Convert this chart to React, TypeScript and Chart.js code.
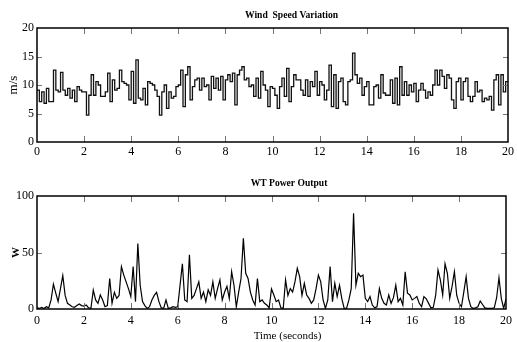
import React, { useEffect, useRef } from "react";
import { Chart, registerables } from "chart.js";

Chart.register(...registerables);

// ---------- data ----------
const timeStep = 0.1; // seconds between samples
const timeRange = [0, 20];
const xTicks = [0, 2, 4, 6, 8, 10, 12, 14, 16, 18, 20];
const windTicks = [0, 5, 10, 15, 20];
const powerTicks = [0, 50, 100];

const windTitle = "Wind  Speed Variation";
const powerTitle = "WT Power Output";
const windUnit = "m/s";
const powerUnit = "W";
const timeLabel = "Time (seconds)";

// wind speed (m/s), one value per 0.1 s step
const windSpeed = [
  9.1, 7.1, 8.8, 6.8, 9.4, 7.1, 7.1, 12.6, 9.1, 8.8,
  12.2, 9.1, 8.2, 9.4, 7.7, 9.1, 7.1, 9.7, 9.1, 8.8,
  8.8, 4.7, 8.2, 11.8, 8.2, 10.6, 10.0, 8.0, 8.0, 8.8,
  12.1, 7.1, 10.9, 9.1, 9.4, 12.6, 10.6, 10.3, 10.0, 7.4,
  12.4, 6.8, 14.4, 7.7, 7.4, 9.4, 6.5, 10.6, 10.3, 10.0,
  9.1, 8.0, 4.7, 8.8, 10.0, 5.9, 8.8, 7.7, 8.0, 9.7,
  10.0, 12.6, 6.2, 11.8, 13.2, 7.4, 9.7, 10.9, 11.2,
  9.1, 11.2, 9.7, 10.0, 7.4, 11.5, 9.4, 11.2, 9.1, 11.5,
  7.4, 10.9, 11.8, 10.6, 12.1, 6.5, 11.8, 12.6, 13.2, 10.9,
  11.2, 9.7, 10.0, 8.0, 11.2, 7.7, 12.4, 10.0, 9.1, 6.2,
  9.7, 9.4, 8.2, 5.9, 9.7, 11.2, 8.0, 12.9, 7.1, 9.7,
  11.8, 10.9, 10.9, 9.1, 8.2, 10.9, 8.0, 10.6, 9.7,
  12.4, 8.2, 10.6, 10.0, 7.4, 9.1, 13.5, 6.2, 11.8, 5.9,
  10.6, 11.2, 7.1, 6.5, 10.6, 10.9, 15.6,
  11.8, 10.3, 11.2, 8.2, 9.7, 10.6, 6.5, 6.5, 9.7, 10.0,
  7.7, 11.8, 8.6, 8.2, 8.2, 10.9, 6.8, 11.2, 6.5, 13.2, 8.2,
  10.6, 8.2, 10.0, 8.8, 10.3, 7.1, 9.1, 10.3, 9.1, 7.7,
  8.8, 8.2, 10.0, 12.6, 10.0, 12.6, 11.5, 9.4, 11.8, 11.2,
  7.4, 5.9, 10.6, 11.2, 7.4, 10.6, 11.2, 8.0, 7.1, 8.0,
  10.6, 8.8, 9.1, 7.1, 7.7, 7.4, 8.0, 5.6, 10.9, 11.8,
  6.5, 11.8, 8.8, 10.6,
];

// turbine power (W), sampled every 0.1 s from 0 to 20 s
const windPower = [
  1, 0.5, 1.5, 0.5, 2, 1, 8, 22, 14, 6.5,
  18, 29.5, 12, 5, 3.5, 2, 1.5, 3, 4.5, 3,
  2.5, 3.5, 1, 0.5, 16.8, 8, 5, 12.4, 8, 2,
  3, 27, 5, 14.7, 9.4, 12, 37.5, 30, 24, 18,
  11, 37.5, 6.5, 58, 21, 6.5, 3, 0.5, 2, 8,
  12, 14.7, 6.5, 1, 0.5, 8, 0.5, 1, 2, 1.5,
  2, 21, 40, 8, 6.5, 48, 9.4, 12, 18, 24,
  9.4, 15, 6.5, 17, 12, 24, 9.4, 18, 25.7, 8,
  15, 20, 9.4, 33, 21, 2, 15, 27, 62.5, 31.6,
  27, 15, 8, 3.5, 27, 6.5, 8, 5, 3.5, 1,
  17.7, 12.4, 6.5, 8, 1, 0.5, 25.7, 12, 18, 15,
  24, 36, 28.6, 12, 22.7, 12.4, 9.4, 5, 8, 18,
  30, 24, 8, 0.5, 8, 37.5, 6.5, 22.7, 11, 21,
  9, 0.5, 0.5, 8, 18, 84.7, 21, 31.6, 28.6, 30,
  9.4, 6.5, 11, 3.5, 1, 2, 18, 9.4, 5, 3.5,
  12.4, 5, 10, 21, 6.5, 9.4, 3.5, 33, 14, 12.4,
  8, 9.4, 11, 5, 2, 11, 9, 5, 1, 1.5,
  12, 34.5, 25.7, 12.4, 40, 31.6, 9.4, 20, 33, 12,
  5, 2, 15, 28.6, 9.4, 2, 0.5, 1, 2, 7,
  4, 1, 0.5, 0.5, 0.5, 1, 10, 27.7, 9.4, 0.5,
  9,
];

// ---------- helpers ----------
const FONT = '"Liberation Serif", "Times New Roman", serif';

type PanelCfg = {
  title: string;
  titleX: number;
  titleY: number;
  yUnit: string;
  yUnitFont: string;
  yUnitX: number;
  yTicks: number[];
  xLabel?: string;
  xLabelX?: number;
  xLabelY?: number;
};

function framePlugin(cfg: PanelCfg) {
  return {
    id: "frame",
    afterDatasetsDraw(chart: any) {
      const { ctx, chartArea: a, scales } = chart;
      ctx.save();
      // inward tick marks
      ctx.strokeStyle = "#777";
      ctx.lineWidth = 1;
      ctx.beginPath();
      xTicks.slice(1, -1).forEach((v) => {
        const px = Math.round(scales.x.getPixelForValue(v)) + 0.5;
        ctx.moveTo(px, a.bottom);
        ctx.lineTo(px, a.bottom - 6);
        ctx.moveTo(px, a.top);
        ctx.lineTo(px, a.top + 6);
      });
      cfg.yTicks.slice(1, -1).forEach((v) => {
        const py = Math.round(scales.y.getPixelForValue(v)) + 0.5;
        ctx.moveTo(a.left, py);
        ctx.lineTo(a.left + 5, py);
        ctx.moveTo(a.right, py);
        ctx.lineTo(a.right - 5, py);
      });
      ctx.stroke();
      // frame
      ctx.strokeStyle = "#000";
      ctx.lineWidth = 1.5;
      ctx.strokeRect(a.left, a.top, a.right - a.left, a.bottom - a.top);
      // title
      ctx.fillStyle = "#000";
      ctx.font = `bold 9.6px ${FONT}`;
      ctx.textAlign = "center";
      ctx.textBaseline = "alphabetic";
      ctx.fillText(cfg.title, cfg.titleX, cfg.titleY);
      // y unit
      ctx.save();
      ctx.translate(cfg.yUnitX, (a.top + a.bottom) / 2);
      ctx.rotate(-Math.PI / 2);
      ctx.font = cfg.yUnitFont;
      ctx.textBaseline = "middle";
      ctx.fillText(cfg.yUnit, 0, 0);
      ctx.restore();
      // x label
      if (cfg.xLabel) {
        ctx.font = `11px ${FONT}`;
        ctx.textBaseline = "alphabetic";
        ctx.fillText(cfg.xLabel, cfg.xLabelX!, cfg.xLabelY!);
      }
      ctx.restore();
    },
  };
}

function makeScales(yMin: number, yMax: number, yTicks: number[], xHeight: number, xPad: number) {
  return {
    x: {
      type: "linear" as const,
      min: timeRange[0],
      max: timeRange[1],
      grid: { display: false, drawTicks: false },
      border: { display: false },
      ticks: {
        color: "#000",
        font: { family: FONT, size: 12 },
        padding: xPad,
        maxRotation: 0,
        autoSkip: false,
      },
      afterBuildTicks: (s: any) => {
        s.ticks = xTicks.map((v) => ({ value: v }));
      },
      afterFit: (s: any) => {
        s.height = xHeight;
      },
    },
    y: {
      type: "linear" as const,
      min: yMin,
      max: yMax,
      grid: { display: false, drawTicks: false },
      border: { display: false },
      ticks: {
        color: "#000",
        font: { family: FONT, size: 12 },
        padding: 3,
        autoSkip: false,
      },
      afterBuildTicks: (s: any) => {
        s.ticks = yTicks.map((v) => ({ value: v }));
      },
      afterFit: (s: any) => {
        s.width = 37;
      },
    },
  };
}

export default function App() {
  const topRef = useRef<HTMLCanvasElement>(null);
  const botRef = useRef<HTMLCanvasElement>(null);

  useEffect(() => {
    const windPts = windSpeed.map((v, i) => ({ x: i * timeStep, y: v }));
    windPts.push({ x: timeRange[1], y: windSpeed[windSpeed.length - 1] });
    const powerPts = windPower.map((v, i) => ({ x: i * timeStep, y: v }));

    const top = new Chart(topRef.current!, {
      type: "line",
      data: {
        datasets: [
          {
            data: windPts,
            borderColor: "#111",
            borderWidth: 1.3,
            pointRadius: 0,
            stepped: true,
            fill: false,
          },
        ],
      },
      options: {
        responsive: false,
        animation: false,
        layout: { padding: { top: 28, right: 7, left: 0, bottom: 0 } },
        plugins: { legend: { display: false }, tooltip: { enabled: false }, title: { display: false } },
        scales: makeScales(0, 20, windTicks, 28, 3) as any,
      },
      plugins: [
        framePlugin({
          title: windTitle,
          titleX: 291.5,
          titleY: 17.5,
          yUnit: windUnit,
          yUnitFont: `13px ${FONT}`,
          yUnitX: 14,
          yTicks: windTicks,
        }),
      ],
    });

    const bot = new Chart(botRef.current!, {
      type: "line",
      data: {
        datasets: [
          {
            data: powerPts,
            borderColor: "#000",
            borderWidth: 1.2,
            pointRadius: 0,
            tension: 0,
            fill: false,
          },
        ],
      },
      options: {
        responsive: false,
        animation: false,
        layout: { padding: { top: 26, right: 7, left: 0, bottom: 0 } },
        plugins: { legend: { display: false }, tooltip: { enabled: false }, title: { display: false } },
        scales: makeScales(0, 100, powerTicks, 33, 5) as any,
      },
      plugins: [
        framePlugin({
          title: powerTitle,
          titleX: 289,
          titleY: 15.5,
          yUnit: powerUnit,
          yUnitFont: `bold 11px ${FONT}`,
          yUnitX: 16,
          yTicks: powerTicks,
          xLabel: timeLabel,
          xLabelX: 287.5,
          xLabelY: 168.5,
        }),
      ],
    });

    return () => {
      top.destroy();
      bot.destroy();
    };
  }, []);

  return (
    <div style={{ position: "absolute", left: 0, top: 0, width: 517, height: 342, background: "#fff" }}>
      <canvas ref={topRef} width={517} height={170} style={{ display: "block", width: 517, height: 170 }} />
      <canvas ref={botRef} width={517} height={172} style={{ display: "block", width: 517, height: 172 }} />
    </div>
  );
}
